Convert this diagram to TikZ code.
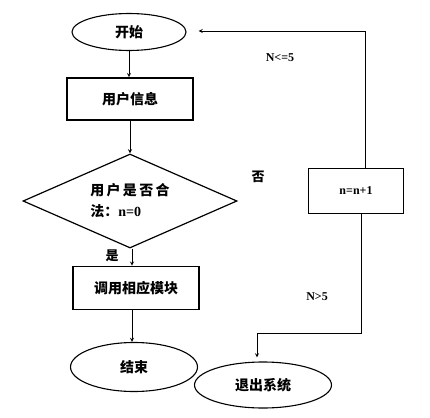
\documentclass[tikz,border=0pt]{standalone}
\usepackage{fontspec}
\setmainfont{Liberation Serif}
\newfontfamily\cjk{Noto Sans CJK SC}
\usetikzlibrary{shapes.geometric}

\begin{document}
\begin{tikzpicture}[x=1pt,y=-1pt,>=stealth]
\tikzstyle{terminal}=[ellipse, draw, line width=1.1pt, inner sep=0pt, font=\cjk\bfseries\fontsize{14}{16}\selectfont]
\tikzstyle{process}=[rectangle, draw, line width=1.6pt, inner sep=0pt, font=\cjk\bfseries\fontsize{14}{16}\selectfont]
\tikzstyle{decision}=[diamond, draw, line width=1.2pt, aspect=2.28, inner sep=0pt, align=left, font=\cjk\bfseries\fontsize{14}{21}\selectfont]
\tikzstyle{tag}=[inner sep=0pt, font=\bfseries\fontsize{12}{14}\selectfont]
\tikzstyle{flow}=[draw, line width=0.9pt, ->]

\useasboundingbox (0,0) rectangle (430,417);

\node[terminal, minimum width=114pt, minimum height=37pt] (start) at (129,32) {开始};
\node[process, minimum width=126pt, minimum height=42pt] (info) at (130,99) {用户信息};
\node[decision, minimum width=214pt, minimum height=94pt] (check) at (130,201)
  {用\,户\,是\,否\,合\\法：{\rmfamily n=0}};
\node[process, minimum width=126pt, minimum height=43pt] (call) at (136,288) {调用相应模块};
\node[terminal, minimum width=127pt, minimum height=49pt] (stop) at (134,367) {结束};
\node[terminal, minimum width=137pt, minimum height=46pt] (exit) at (263,385) {退出系统};
\node[process, minimum width=95pt, minimum height=45pt, line width=1.8pt, font=\bfseries\fontsize{12}{14}\selectfont] (inc) at (356,191) {n=n+1};

\node[tag] (le) at (280,58) {N<=5};
\node[tag, font=\cjk\bfseries\fontsize{13}{15}\selectfont] (no) at (258,177) {否};
\node[tag] (gt) at (317,297) {N>5};
\node[tag, font=\cjk\bfseries\fontsize{13}{15}\selectfont] (yes) at (112,256) {是};

\coordinate (bend) at (361,333);

\path[flow] (start.south) -- (start.south |- info.north);
\path[flow] (info.south) -- (check.north);
\path[flow] ([xshift=2pt]check.south) -- ([xshift=2pt]check.south |- call.north);
\path[flow] ([xshift=-4pt]call.south) -- ([xshift=-2pt]stop.north);
\path[flow] ([xshift=9pt]inc.north) |- ([xshift=12pt,yshift=1pt]start.east);
\path[flow] (inc.south -| bend) -- (bend) -| ([xshift=-6pt,yshift=4pt]exit.north);
\end{tikzpicture}
\end{document}
